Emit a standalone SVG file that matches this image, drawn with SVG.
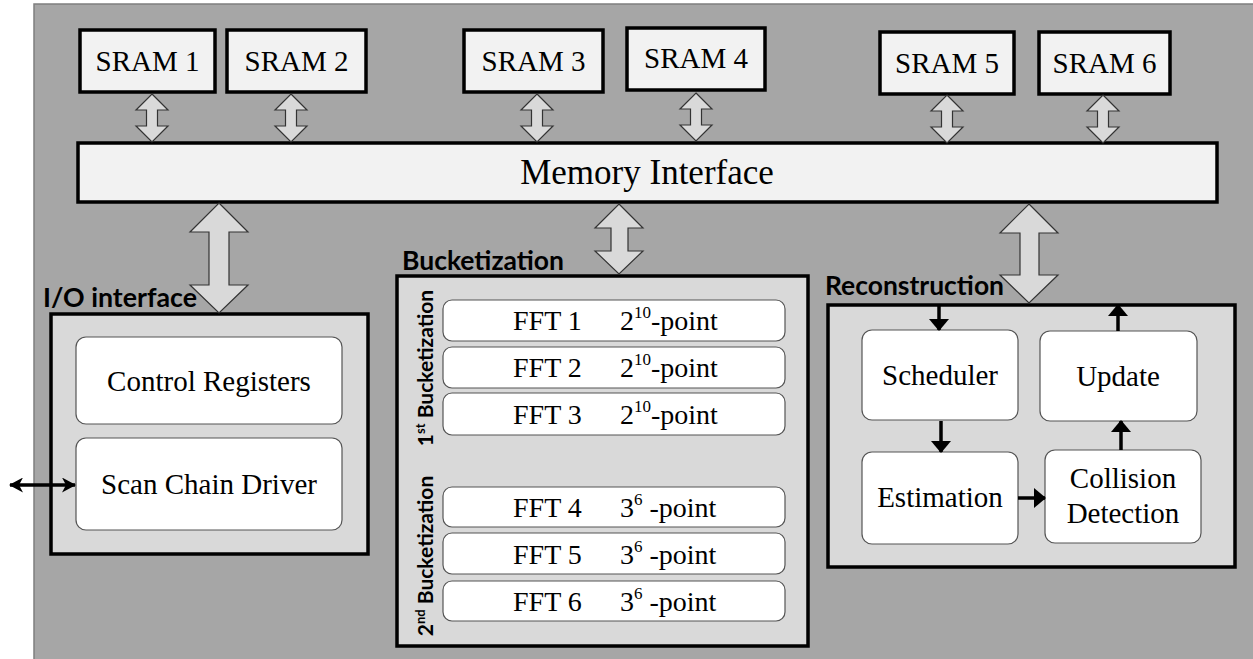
<svg xmlns="http://www.w3.org/2000/svg" width="1253" height="659" viewBox="0 0 1253 659">
<defs>
<style>
.sram{fill:#f2f2f2;stroke:#000;stroke-width:3.5}
.grp{fill:#d9d9d9;stroke:#000;stroke-width:3.5}
.blk{fill:#fff;stroke:#555;stroke-width:1.2}
.serif{font-family:"Liberation Serif","Times New Roman",serif;fill:#000}
.lbl{font-family:Lato,"Open Sans","Liberation Sans",sans-serif;font-weight:bold;fill:#000}
.dbl{fill:#d9d9d9;stroke:#333;stroke-width:1.2;stroke-linejoin:miter}
.ln{stroke:#000;stroke-width:3.5;fill:none}
</style>
<marker id="ah" viewBox="0 0 12 20" refX="11" refY="10" markerWidth="12" markerHeight="20" orient="auto-start-reverse" markerUnits="userSpaceOnUse">
<path d="M0,0 L12,10 L0,20 Z" fill="#000"/>
</marker>
<marker id="ah2" viewBox="0 0 14 15" refX="13" refY="7.5" markerWidth="14" markerHeight="15" orient="auto-start-reverse" markerUnits="userSpaceOnUse">
<path d="M0,0 L14,7.5 L0,15 L4,7.5 Z" fill="#000"/>
</marker>
<polygon id="sarr" points="0,0 16,16 5.5,16 5.5,32 16,32 0,48 -16,32 -5.5,32 -5.5,16 -16,16"/>
</defs>

<rect x="34" y="4" width="1230" height="665" fill="#a6a6a6" stroke="#7f7f7f" stroke-width="1.5"/>

<g id="sram1"><rect class="sram" x="80" y="30" width="135" height="62"/><text class="serif" x="147.5" y="71" font-size="29" text-anchor="middle">SRAM 1</text></g>
<g id="sram2"><rect class="sram" x="227" y="30" width="139" height="62"/><text class="serif" x="296.5" y="71" font-size="29" text-anchor="middle">SRAM 2</text></g>
<g id="sram3"><rect class="sram" x="464" y="30" width="139" height="62"/><text class="serif" x="533.5" y="71" font-size="29" text-anchor="middle">SRAM 3</text></g>
<g id="sram4"><rect class="sram" x="627" y="28" width="138" height="62"/><text class="serif" x="696" y="68" font-size="29" text-anchor="middle">SRAM 4</text></g>
<g id="sram5"><rect class="sram" x="880" y="32" width="134" height="62"/><text class="serif" x="947" y="73" font-size="29" text-anchor="middle">SRAM 5</text></g>
<g id="sram6"><rect class="sram" x="1039" y="32" width="131" height="62"/><text class="serif" x="1104.5" y="73" font-size="29" text-anchor="middle">SRAM 6</text></g>

<g id="memif"><rect class="sram" x="78" y="143" width="1139" height="59"/><text class="serif" x="647" y="184" font-size="35" text-anchor="middle">Memory Interface</text></g>

<g id="io">
<rect class="grp" x="51" y="314" width="317" height="240"/>
<text class="lbl" x="43" y="307" font-size="26" textLength="154" lengthAdjust="spacingAndGlyphs">I/O interface</text>
<g id="ctrlreg"><rect class="blk" x="76" y="337" width="266" height="87" rx="10"/><text class="serif" x="209" y="391" font-size="29" text-anchor="middle">Control Registers</text></g>
<g id="scan"><rect class="blk" x="76" y="438" width="266" height="92" rx="10"/><text class="serif" x="209" y="494" font-size="29" text-anchor="middle">Scan Chain Driver</text></g>
</g>

<g id="bucket">
<rect class="grp" x="397" y="276" width="411" height="370"/>
<text class="lbl" x="402" y="270" font-size="26" textLength="162" lengthAdjust="spacingAndGlyphs">Bucketization</text>
<text class="lbl" font-size="21" text-anchor="middle" transform="translate(433,368) rotate(-90)">1<tspan font-size="13" dy="-8">st</tspan><tspan dy="8"> Bucketization</tspan></text>
<text class="lbl" font-size="21" text-anchor="middle" transform="translate(433,556) rotate(-90)">2<tspan font-size="13" dy="-8">nd</tspan><tspan dy="8"> Bucketization</tspan></text>
<g id="fft1"><rect class="blk" x="443" y="300" width="342" height="41" rx="9"/><text class="serif" x="513" y="330" font-size="28">FFT 1</text><text class="serif" x="620" y="330" font-size="28">2<tspan font-size="17" dy="-12">10</tspan><tspan dy="12">-point</tspan></text></g>
<g id="fft2"><rect class="blk" x="443" y="347" width="342" height="41" rx="9"/><text class="serif" x="513" y="377" font-size="28">FFT 2</text><text class="serif" x="620" y="377" font-size="28">2<tspan font-size="17" dy="-12">10</tspan><tspan dy="12">-point</tspan></text></g>
<g id="fft3"><rect class="blk" x="443" y="393" width="342" height="42" rx="9"/><text class="serif" x="513" y="424" font-size="28">FFT 3</text><text class="serif" x="620" y="424" font-size="28">2<tspan font-size="17" dy="-12">10</tspan><tspan dy="12">-point</tspan></text></g>
<g id="fft4"><rect class="blk" x="443" y="487" width="342" height="40" rx="9"/><text class="serif" x="513" y="517" font-size="28">FFT 4</text><text class="serif" x="620" y="517" font-size="28">3<tspan font-size="17" dy="-12">6</tspan><tspan dy="12"> -point</tspan></text></g>
<g id="fft5"><rect class="blk" x="443" y="533" width="342" height="41" rx="9"/><text class="serif" x="513" y="564" font-size="28">FFT 5</text><text class="serif" x="620" y="564" font-size="28">3<tspan font-size="17" dy="-12">6</tspan><tspan dy="12"> -point</tspan></text></g>
<g id="fft6"><rect class="blk" x="443" y="581" width="342" height="40" rx="9"/><text class="serif" x="513" y="611" font-size="28">FFT 6</text><text class="serif" x="620" y="611" font-size="28">3<tspan font-size="17" dy="-12">6</tspan><tspan dy="12"> -point</tspan></text></g>
</g>

<g id="recon">
<rect class="grp" x="828" y="305" width="407" height="262"/>
<text class="lbl" x="825" y="295" font-size="26" textLength="179" lengthAdjust="spacingAndGlyphs">Reconstruction</text>
<g id="sched"><rect class="blk" x="862" y="330" width="156" height="90" rx="10"/><text class="serif" x="940" y="385" font-size="29" text-anchor="middle">Scheduler</text></g>
<g id="update"><rect class="blk" x="1040" y="331" width="157" height="90" rx="10"/><text class="serif" x="1118" y="386" font-size="29" text-anchor="middle">Update</text></g>
<g id="estim"><rect class="blk" x="862" y="452" width="156" height="92" rx="10"/><text class="serif" x="940" y="507" font-size="29" text-anchor="middle">Estimation</text></g>
<g id="collis"><rect class="blk" x="1045" y="450" width="156" height="93" rx="10"/><text class="serif" x="1123" y="488" font-size="29" text-anchor="middle">Collision</text><text class="serif" x="1123" y="523" font-size="29" text-anchor="middle">Detection</text></g>
</g>

<g id="connectors">
<use href="#sarr" class="dbl" x="152" y="94"/>
<use href="#sarr" class="dbl" x="291" y="94"/>
<use href="#sarr" class="dbl" x="537" y="94"/>
<use href="#sarr" class="dbl" x="696" y="93"/>
<use href="#sarr" class="dbl" x="947" y="95"/>
<use href="#sarr" class="dbl" x="1103" y="95"/>
<polygon class="dbl" points="219,203 248,232 229,232 229,285 248,285 219,313 190,285 209,285 209,232 190,232"/>
<polygon class="dbl" points="619,204 643,228 628,228 628,251 643,251 619,274 595,251 611,251 611,228 595,228"/>
<polygon class="dbl" points="1029,204 1058,233 1039,233 1039,275 1058,275 1029,303 1000,275 1020,275 1020,233 1000,233"/>
<line class="ln" x1="10" y1="485" x2="75" y2="485" stroke-width="3" marker-start="url(#ah2)" marker-end="url(#ah2)"/>
<line class="ln" x1="939" y1="306" x2="939" y2="330" marker-end="url(#ah)"/>
<line class="ln" x1="941" y1="421" x2="941" y2="452" marker-end="url(#ah)"/>
<line class="ln" x1="1018" y1="498" x2="1045" y2="498" marker-end="url(#ah)"/>
<line class="ln" x1="1121" y1="450" x2="1121" y2="421" marker-end="url(#ah)"/>
<line class="ln" x1="1118" y1="331" x2="1118" y2="305" marker-end="url(#ah)"/>
</g>
</svg>
